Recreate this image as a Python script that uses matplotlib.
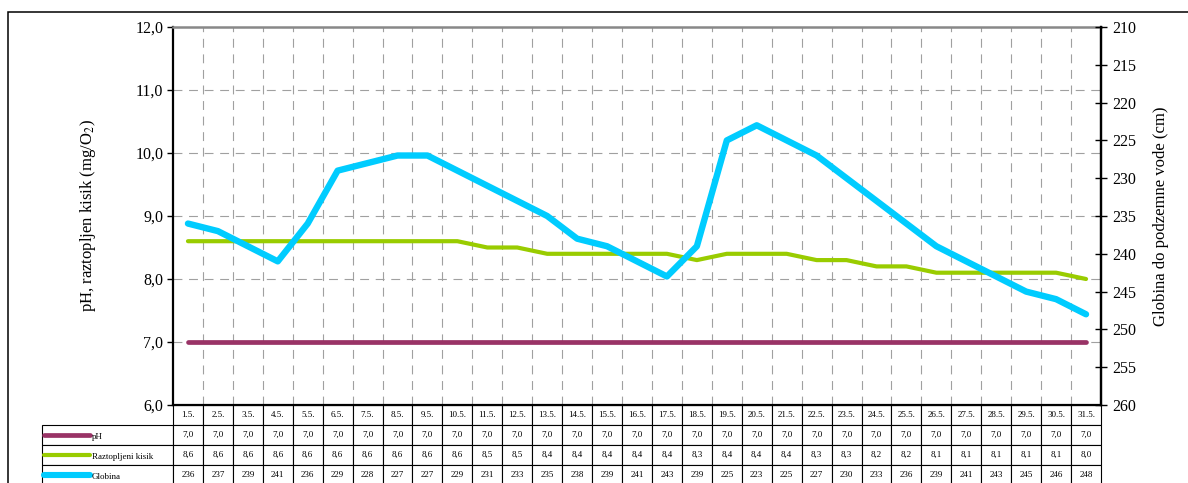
import numpy as np
import matplotlib
matplotlib.use("Agg")
import matplotlib.pyplot as plt
from matplotlib.lines import Line2D
from matplotlib.patches import Rectangle

plt.rcParams["font.family"] = ["Liberation Serif", "DejaVu Serif"]
plt.rcParams["mathtext.fontset"] = "stix"

# Data
dates = [f"{d}.5." for d in range(1, 32)]
ph = [7.0] * 31
kisik = [8.6, 8.6, 8.6, 8.6, 8.6, 8.6, 8.6, 8.6, 8.6, 8.6, 8.5, 8.5, 8.4, 8.4,
         8.4, 8.4, 8.4, 8.3, 8.4, 8.4, 8.4, 8.3, 8.3, 8.2, 8.2, 8.1, 8.1, 8.1,
         8.1, 8.1, 8.0]
globina = [236, 237, 239, 241, 236, 229, 228, 227, 227, 229, 231, 233, 235,
           238, 239, 241, 243, 239, 225, 223, 225, 227, 230, 233, 236, 239,
           241, 243, 245, 246, 248]
row_names = ["pH", "Raztopljeni kisik", "Globina"]

C_PH = "#993366"
C_O2 = "#99CC00"
C_GL = "#00CCFF"
GRID = "#a0a0a0"

W, H = 1188, 483
fig = plt.figure(figsize=(W / 100, H / 100), dpi=100)

# outer frame
fig.add_artist(Rectangle((8 / W, -0.1), 1.2, (H - 12) / H + 0.1,
                         transform=fig.transFigure, fill=False,
                         edgecolor="black", linewidth=1.1))

x0, x1, ytop, ybot = 173, 1101, 27, 405
ax = fig.add_axes([x0 / W, (H - ybot) / H, (x1 - x0) / W, (ybot - ytop) / H])
x = np.arange(len(dates))

ax.plot(x, ph, color=C_PH, lw=3.4, solid_capstyle="round", zorder=3)
ax.plot(x, kisik, color=C_O2, lw=3.0, solid_capstyle="round", zorder=3)
ax.set_xlim(-0.5, len(dates) - 0.5)
ax.set_ylim(6, 12)
ax.set_yticks(np.arange(6, 12.1, 1))
ax.set_yticklabels([f"{v:.1f}".replace(".", ",") for v in np.arange(6, 12.1, 1)],
                   fontsize=11.5)
ax.set_xticks(np.arange(0.5, len(dates) - 1, 1), minor=True)
ax.set_xticks([])
ax.tick_params(axis="x", which="both", length=0, labelbottom=False)
ax.tick_params(axis="y", direction="out", length=4, width=1, pad=3)
ax.grid(True, axis="y", color=GRID, lw=0.8, linestyle=(0, (8, 6)))
ax.grid(True, axis="x", which="minor", color=GRID, lw=0.8, linestyle=(0, (8, 6)))
ax.set_ylabel(r"pH, raztopljen kisik (mg/O$_2$)", fontsize=12, labelpad=27)
for s in ["left", "bottom", "right"]:
    ax.spines[s].set_linewidth(1.6)
    ax.spines[s].set_color("black")
ax.spines["top"].set_color("#888888")
ax.spines["top"].set_linewidth(1.8)

ax2 = ax.twinx()
ax2.plot(x, globina, color=C_GL, lw=4.6, solid_capstyle="round",
         solid_joinstyle="round", zorder=4)
ax2.set_ylim(260, 210)
ax2.set_yticks(np.arange(210, 261, 5))
ax2.tick_params(axis="y", direction="inout", length=8, width=1, labelsize=11.5, pad=4)
ax2.set_ylabel("Globina do podzemne vode (cm)", fontsize=12, labelpad=12)
for s in ["top", "left", "bottom"]:
    ax2.spines[s].set_visible(False)
ax2.spines["right"].set_linewidth(1.6)

# data table below the plot
def fmt(v):
    return f"{v:.1f}".replace(".", ",")

cell_text = [[""] + dates,
             [""] + [fmt(v) for v in ph],
             [""] + [fmt(v) for v in kisik],
             [""] + [str(v) for v in globina]]
ax_h = ybot - ytop
label_w = x0 - 42
tb_h = 80 / ax_h
tbl = ax.table(cellText=cell_text,
               colWidths=[label_w] + [(x1 - x0) / 31] * 31,
               cellLoc="center",
               bbox=[-label_w / (x1 - x0), -tb_h, 1 + label_w / (x1 - x0), tb_h])
tbl.auto_set_font_size(False)
tbl.set_fontsize(6.5)
for (r, c), cell in tbl.get_celld().items():
    cell.set_linewidth(0.8)
    cell.set_edgecolor("black")
    cell.PAD = 0.02
    if r == 0 and c == 0:
        cell.visible_edges = ""

# legend swatches and row labels in the label column
row_h = tb_h / 4
colors = [C_PH, C_O2, C_GL]
lws = [3.4, 3.0, 4.4]
for i, (name, col) in enumerate(zip(row_names, colors)):
    yc = -row_h * (i + 1) - row_h / 2
    xa = (44 - x0) / (x1 - x0)
    xb = (90 - x0) / (x1 - x0)
    ax.add_line(Line2D([xa, xb], [yc, yc], transform=ax.transAxes, color=col,
                       lw=lws[i], solid_capstyle="round", clip_on=False))
    ax.text((92 - x0) / (x1 - x0), yc - row_h * 0.12, name, transform=ax.transAxes,
            fontsize=6.5, ha="left", va="center")

fig.savefig("out.png", dpi=100)
